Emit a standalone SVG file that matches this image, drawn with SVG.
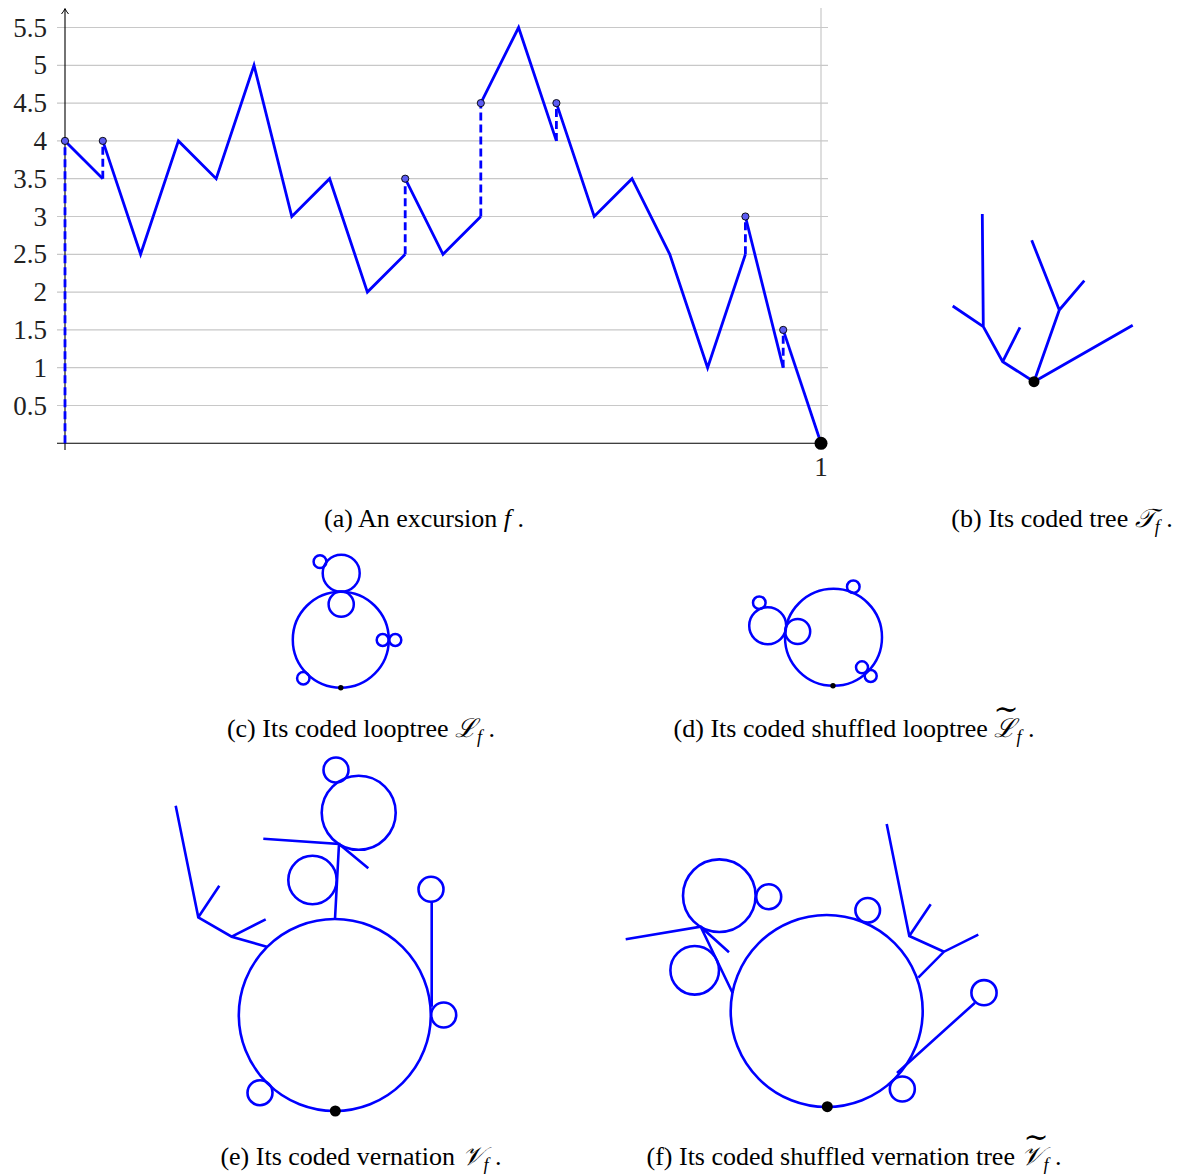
<svg xmlns="http://www.w3.org/2000/svg" width="1182" height="1174" viewBox="0 0 1182 1174">
<style>
.grid{stroke:#c8c8c8;stroke-width:1.2;fill:none}
.axis{stroke:#000;stroke-width:1.1;fill:none}
.bl{stroke:#0000ff;stroke-width:2.8;fill:none;stroke-linejoin:miter}
.dash{stroke:#0000ff;stroke-width:2.8;fill:none;stroke-dasharray:8 4}
.dot{fill:#5c5cf2;stroke:#000;stroke-width:0.9}
.tk{font-size:27px;fill:#222;text-anchor:end}
.cap{font-size:26px;fill:#000;text-anchor:middle}
.lt{stroke:#0000ff;stroke-width:2.5;fill:none}
.vn{stroke:#0000ff;stroke-width:2.6;fill:none}
.math{font-style:italic}
</style>
<defs>
<marker id="arr" markerWidth="10" markerHeight="10" refX="5" refY="5" orient="auto" markerUnits="userSpaceOnUse">
<path d="M1,1.5 Q4,4 6.5,5 Q4,6 1,8.5" fill="none" stroke="#000" stroke-width="1"/>
</marker>
</defs>

<g id="plot-a" font-family="Liberation Serif, DejaVu Serif, serif">
<g id="grid">
<path class="grid" d="M57,405.5H828M57,367.7H828M57,329.9H828M57,292.1H828M57,254.3H828M57,216.5H828M57,178.7H828M57,140.9H828M57,103.1H828M57,65.3H828M57,27.5H828M821,8V443.3"/>
</g>
<g id="axes">
<line class="axis" x1="57" y1="443.3" x2="821" y2="443.3"/>
<line class="axis" x1="65" y1="450" x2="65" y2="10" marker-end="url(#arr)"/>
</g>
<g id="ticks">
<text class="tk" x="47" y="36.5">5.5</text>
<text class="tk" x="47" y="74.3">5</text>
<text class="tk" x="47" y="112.1">4.5</text>
<text class="tk" x="47" y="149.9">4</text>
<text class="tk" x="47" y="187.7">3.5</text>
<text class="tk" x="47" y="225.5">3</text>
<text class="tk" x="47" y="263.3">2.5</text>
<text class="tk" x="47" y="301.1">2</text>
<text class="tk" x="47" y="338.9">1.5</text>
<text class="tk" x="47" y="376.7">1</text>
<text class="tk" x="47" y="414.5">0.5</text>
<text class="tk" x="821" y="476" style="text-anchor:middle">1</text>
</g>
<g id="excursion">
<path class="dash" d="M65,443.3V140.9M102.8,178.7V140.9M405.2,254.3V178.7M480.8,216.5V103.1M556.4,140.9V103.1M745.4,254.3V216.5M783.2,367.7V329.9"/>
<path class="bl" d="M65,140.9L102.8,178.7"/>
<path class="bl" d="M102.8,140.9L140.6,254.3L178.4,140.9L216.2,178.7L254,65.3L291.8,216.5L329.6,178.7L367.4,292.1L405.2,254.3"/>
<path class="bl" d="M405.2,178.7L443,254.3L480.8,216.5"/>
<path class="bl" d="M480.8,103.1L518.6,27.5L556.4,140.9"/>
<path class="bl" d="M556.4,103.1L594.2,216.5L632,178.7L669.8,254.3L707.6,367.7L745.4,254.3"/>
<path class="bl" d="M745.4,216.5L783.2,367.7"/>
<path class="bl" d="M783.2,329.9L821,443.3"/>
<circle class="dot" cx="65" cy="140.9" r="3.6"/>
<circle class="dot" cx="102.8" cy="140.9" r="3.6"/>
<circle class="dot" cx="405.2" cy="178.7" r="3.6"/>
<circle class="dot" cx="480.8" cy="103.1" r="3.6"/>
<circle class="dot" cx="556.4" cy="103.1" r="3.6"/>
<circle class="dot" cx="745.4" cy="216.5" r="3.6"/>
<circle class="dot" cx="783.2" cy="329.9" r="3.6"/>
<circle cx="821" cy="443.3" r="6.5" fill="#000"/>
</g>
<text class="cap" x="424" y="527">(a) An excursion <tspan class="math">f</tspan> .</text>
</g>

<g id="tree-b" font-family="Liberation Serif, DejaVu Serif, serif">
<path class="bl" d="M1034,381.7L1002.7,361.7L983.3,326.7L982.3,214M983.3,326.7L952.7,306M1002.7,361.7L1020,327.3M1034,381.7L1059.3,310L1031.7,240.3M1059.3,310L1084.3,280.7M1034,381.7L1132.7,325.3"/>
<circle cx="1034" cy="381.7" r="5.5" fill="#000"/>
<text class="cap" x="1062" y="527">(b) Its coded tree <tspan class="math">𝒯</tspan><tspan class="math" font-size="18" dy="6">f</tspan><tspan dy="-6"> .</tspan></text>
</g>

<g id="looptree-c" font-family="Liberation Serif, DejaVu Serif, serif">
<circle class="lt" cx="340.8" cy="639.7" r="48"/>
<circle class="lt" cx="341.2" cy="573.3" r="18.5"/>
<circle class="lt" cx="341.2" cy="604.2" r="12.6"/>
<circle class="lt" cx="320" cy="561.7" r="6.4"/>
<circle class="lt" cx="382.7" cy="640" r="6"/>
<circle class="lt" cx="395.3" cy="640" r="6"/>
<circle class="lt" cx="303.3" cy="678.3" r="6.2"/>
<circle cx="340.8" cy="687.7" r="2.7" fill="#000"/>
<text class="cap" x="361" y="737">(c) Its coded looptree <tspan class="math">ℒ</tspan><tspan class="math" font-size="18" dy="6">f</tspan><tspan dy="-6"> .</tspan></text>
</g>

<g id="looptree-d" font-family="Liberation Serif, DejaVu Serif, serif">
<circle class="lt" cx="833.5" cy="637.3" r="48.5"/>
<circle class="lt" cx="797.7" cy="631.5" r="12.5"/>
<circle class="lt" cx="767.7" cy="625.7" r="18.5"/>
<circle class="lt" cx="759.3" cy="602.7" r="6.3"/>
<circle class="lt" cx="853.3" cy="586.7" r="6.3"/>
<circle class="lt" cx="862" cy="667.3" r="6"/>
<circle class="lt" cx="870.7" cy="676" r="6"/>
<circle cx="833" cy="685.7" r="2.7" fill="#000"/>
<text class="cap" x="854" y="737">(d) Its coded shuffled looptree <tspan class="math">ℒ</tspan><tspan class="math" font-size="18" dy="6">f</tspan><tspan dy="-6"> .</tspan><tspan x="1006" y="719" font-size="30">∼</tspan></text>
</g>

<g id="vernation-e" font-family="Liberation Serif, DejaVu Serif, serif">
<circle class="vn" cx="334.8" cy="1015" r="96"/>
<circle class="vn" cx="358.7" cy="812.8" r="37"/>
<circle class="vn" cx="336" cy="770" r="12.5"/>
<circle class="vn" cx="312.5" cy="880" r="24.2"/>
<circle class="vn" cx="431" cy="889.3" r="12.5"/>
<circle class="vn" cx="443.7" cy="1015" r="12.5"/>
<circle class="vn" cx="260" cy="1092.7" r="12.5"/>
<path class="vn" d="M335,919L339,844L263.3,838.7M339,844L368.3,868.3M266.7,946.7L231.7,936.7L198.3,917.3L175.7,805.7M198.3,917.3L219.3,885.7M231.7,936.7L265.7,919.3M431.7,1006.7V901.7"/>
<circle cx="335.3" cy="1111" r="5.5" fill="#000"/>
<text class="cap" x="361" y="1165">(e) Its coded vernation <tspan class="math">𝒱</tspan><tspan class="math" font-size="18" dy="6">f</tspan><tspan dy="-6"> .</tspan></text>
</g>

<g id="vernation-f" font-family="Liberation Serif, DejaVu Serif, serif">
<circle class="vn" cx="826.7" cy="1011" r="96"/>
<circle class="vn" cx="719.3" cy="895.7" r="36.3"/>
<circle class="vn" cx="768.7" cy="896.7" r="12.5"/>
<circle class="vn" cx="694.7" cy="970.3" r="24.3"/>
<circle class="vn" cx="867.7" cy="910.3" r="12.3"/>
<circle class="vn" cx="984" cy="992.7" r="12.6"/>
<circle class="vn" cx="902.3" cy="1089" r="12.5"/>
<path class="vn" d="M625.7,939.3L700.7,926.7L729,952.3M700.7,926.7L732.7,993.3M918.3,977.7L944,951.7L978.3,934.7M944,951.7L909.3,936L886.7,824M909.3,936L930.7,904.3M897,1073L975,1002.7"/>
<circle cx="827.3" cy="1106.7" r="5.5" fill="#000"/>
<text class="cap" x="854" y="1165">(f) Its coded shuffled vernation tree <tspan class="math">𝒱</tspan><tspan class="math" font-size="18" dy="6">f</tspan><tspan dy="-6"> .</tspan><tspan x="1036" y="1147" font-size="30">∼</tspan></text>
</g>
</svg>
